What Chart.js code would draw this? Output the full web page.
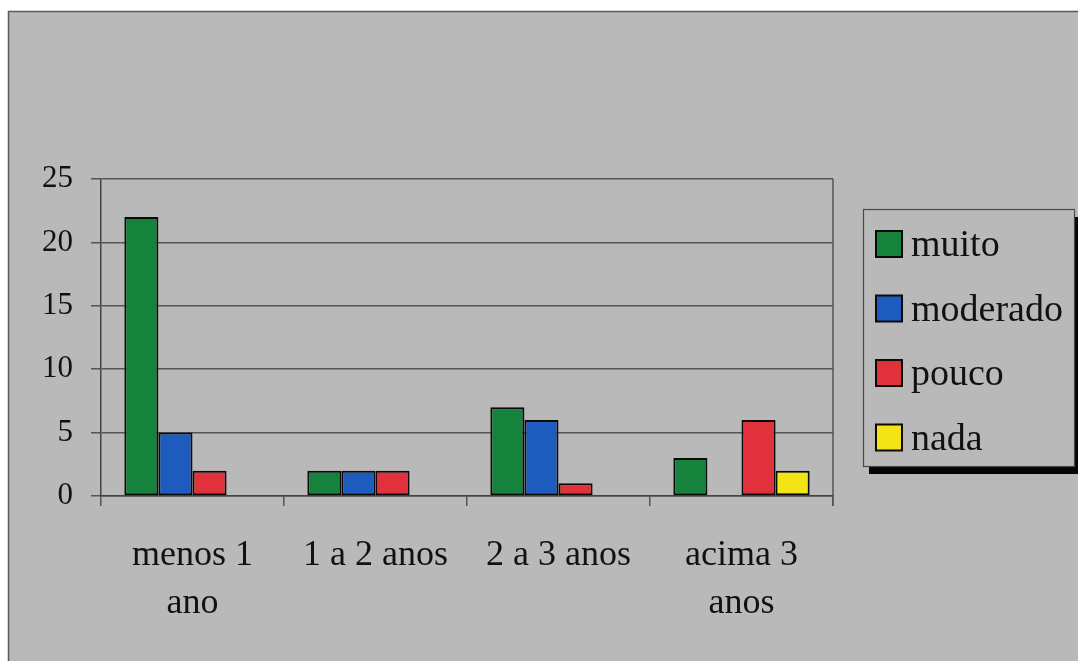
<!DOCTYPE html>
<html>
<head>
<meta charset="utf-8">
<title>Tempo de serviço</title>
<script src="https://cdn.jsdelivr.net/npm/chart.js@4/dist/chart.umd.min.js"></script>
<style>
  html, body { margin: 0; padding: 0; background: #ffffff; }
  #wrap { position: relative; width: 1078px; height: 661px; }
</style>
</head>
<body>
<div id="wrap"><canvas id="c"></canvas></div>
<script>
// Categories (multi-line labels are arrays)
const categories = [['menos 1', 'ano'], '1 a 2 anos', '2 a 3 anos', ['acima 3', 'anos']];

// Series values per category
const muito    = [22, 2, 7, 3];
const moderado = [5, 2, 6, 0];
const pouco    = [2, 2, 1, 6];
const nada     = [0, 0, 0, 2];

const seriesNames = ['muito', 'moderado', 'pouco', 'nada'];
const seriesColors = ['#16833c', '#1d5bbf', '#e0313c', '#f2e415'];

// Y axis range and tick step
const yMin = 0, yMax = 25, yStep = 5;

const FONT = '"Liberation Serif", "Times New Roman", serif';
const PANEL = '#b9b9b9';
const LINE = '#555555';

const seriesData = [muito, moderado, pouco, nada];
const datasets = seriesNames.map((name, i) => ({
  label: name,
  data: seriesData[i],
  backgroundColor: seriesColors[i],
  borderColor: '#0a0a0a',
  borderWidth: 2,
  borderSkipped: false
}));

// Panel background, outer frame and right edge of the plot area
const panelPlugin = {
  id: 'panel',
  beforeDraw(chart) {
    const ctx = chart.ctx;
    ctx.save();
    ctx.fillStyle = '#ffffff';
    ctx.fillRect(0, 0, chart.width, chart.height);
    ctx.fillStyle = PANEL;
    ctx.fillRect(8, 11, chart.width - 8, chart.height - 11);
    ctx.strokeStyle = '#5a5a5a';
    ctx.lineWidth = 1.5;
    ctx.beginPath();
    ctx.moveTo(8.5, chart.height);
    ctx.lineTo(8.5, 11.5);
    ctx.lineTo(chart.width, 11.5);
    ctx.stroke();
    ctx.restore();
  },
  beforeDatasetsDraw(chart) {
    const a = chart.chartArea;
    const ctx = chart.ctx;
    ctx.save();
    ctx.strokeStyle = LINE;
    ctx.lineWidth = 1.5;
    ctx.beginPath();
    ctx.moveTo(a.right, a.top);
    ctx.lineTo(a.right, a.bottom + 10);
    ctx.stroke();
    ctx.restore();
  }
};

// Boxed legend with a drop shadow, at the right of the plot
const boxLegendPlugin = {
  id: 'boxLegend',
  afterDraw(chart) {
    const ctx = chart.ctx;
    const x = 863, y = 209, w = 211, h = 257;
    ctx.save();
    ctx.fillStyle = '#050505';
    ctx.fillRect(x + 6, y + 8, w, h);
    ctx.fillStyle = PANEL;
    ctx.fillRect(x, y, w, h);
    ctx.strokeStyle = '#4a4a4a';
    ctx.lineWidth = 1.2;
    ctx.strokeRect(x + 0.5, y + 0.5, w, h);
    ctx.font = '38px ' + FONT;
    ctx.textBaseline = 'alphabetic';
    ctx.textAlign = 'left';
    chart.data.datasets.forEach((ds, i) => {
      const cy = 244 + i * 64.5;
      ctx.fillStyle = ds.backgroundColor;
      ctx.fillRect(876, cy - 13, 26, 26);
      ctx.strokeStyle = '#0a0a0a';
      ctx.lineWidth = 2;
      ctx.strokeRect(876, cy - 13, 26, 26);
      ctx.fillStyle = '#111111';
      ctx.fillText(ds.label, 911, cy + 12);
    });
    ctx.restore();
  }
};

new Chart(document.getElementById('c'), {
  type: 'bar',
  data: { labels: categories, datasets },
  plugins: [panelPlugin, boxLegendPlugin],
  options: {
    responsive: true,
    maintainAspectRatio: false,
    animation: false,
    devicePixelRatio: 1,
    layout: { padding: { left: 0, right: 245, top: 179, bottom: 0 } },
    datasets: { bar: { categoryPercentage: 0.745, barPercentage: 1.0 } },
    plugins: {
      legend: { display: false },
      tooltip: { enabled: false },
      title: { display: false }
    },
    scales: {
      x: {
        grid: {
          offset: true,
          drawOnChartArea: false,
          drawTicks: true,
          tickLength: 10,
          tickColor: LINE,
          lineWidth: 1.5,
          tickWidth: 1.5
        },
        border: { display: true, color: '#444444', width: 1.5 },
        ticks: {
          color: '#111111',
          padding: 25,
          maxRotation: 0,
          autoSkip: false,
          font: { family: FONT, size: 36, lineHeight: 1.35 }
        },
        afterFit(scale) { scale.height = 165; }
      },
      y: {
        min: yMin,
        max: yMax,
        grid: {
          color: LINE,
          lineWidth: 1.5,
          drawTicks: true,
          tickLength: 10
        },
        border: { display: true, color: '#444444', width: 1.5 },
        ticks: {
          stepSize: yStep,
          color: '#111111',
          padding: 18,
          font: { family: FONT, size: 31 }
        },
        afterFit(scale) { scale.width = 101; }
      }
    }
  }
});
</script>
</body>
</html>
